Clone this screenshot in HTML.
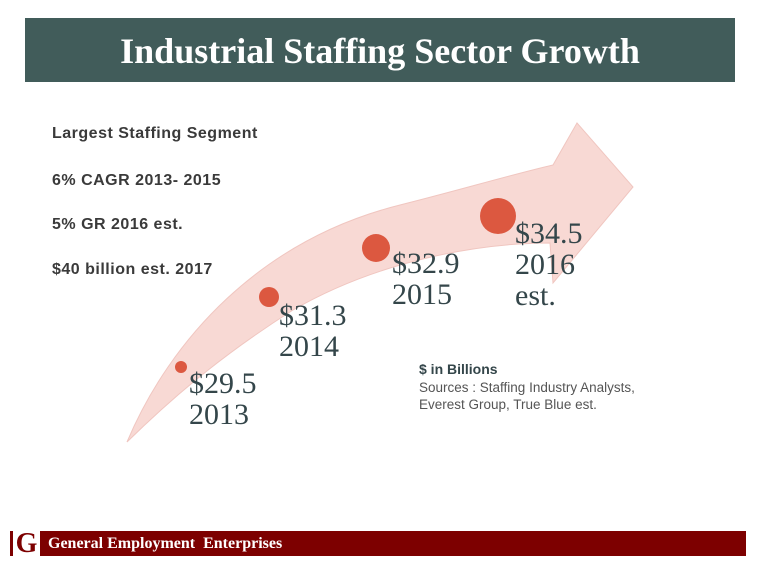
<!DOCTYPE html>
<html><head><meta charset="utf-8"><style>
html,body{margin:0;padding:0;background:#fff;}
body{width:760px;height:570px;position:relative;overflow:hidden;font-family:"Liberation Sans",sans-serif;}
.title{position:absolute;left:25px;top:18px;width:710px;height:64px;background:#415c5a;color:#fff;font-family:"Liberation Serif",serif;font-weight:bold;font-size:36px;text-align:center;line-height:66px;}
.foot{position:absolute;left:10px;top:531px;width:736px;height:25px;background:#7d0000;}
.logo{position:absolute;left:13px;top:531px;width:27px;height:25px;background:#fff;color:#7d0000;font-family:"Liberation Serif",serif;font-weight:bold;font-size:28px;line-height:25px;text-align:center;}
.ft{position:absolute;left:48px;top:531px;line-height:25px;color:#fff;font-family:"Liberation Serif",serif;font-weight:bold;font-size:16px;}
.b{position:absolute;left:52px;font-weight:bold;font-size:16px;letter-spacing:0.5px;color:#3a3a3a;}
.v{position:absolute;font-family:"Liberation Serif",serif;font-size:30px;line-height:31px;color:#34464a;}
</style></head><body>
<div class="title">Industrial Staffing Sector Growth</div>
<svg width="760" height="570" style="position:absolute;left:0;top:0">
<path d="M127,442 C170,340 260,240 400,205 C460,190 510,175 553,165 L577,123 L633,187 L553,283 L550,243 C480,243 380,260 293,310 C230,350 180,390 127,442 Z" fill="#f8d9d4" stroke="#f0c6c0" stroke-width="1"/>
<circle cx="181" cy="367" r="6" fill="#dc5840"/>
<circle cx="269" cy="297" r="10" fill="#dc5840"/>
<circle cx="376" cy="248" r="14" fill="#dc5840"/>
<circle cx="498" cy="216" r="18" fill="#dc5840"/>
</svg>
<div class="b" style="top:125px">Largest Staffing Segment</div>
<div class="b" style="top:172px">6% CAGR 2013- 2015</div>
<div class="b" style="top:216px">5% GR 2016 est.</div>
<div class="b" style="top:261px">$40 billion est. 2017</div>
<div class="v" style="left:189px;top:368px">$29.5<br>2013</div>
<div class="v" style="left:279px;top:300px">$31.3<br>2014</div>
<div class="v" style="left:392px;top:248px">$32.9<br>2015</div>
<div class="v" style="left:515px;top:218px">$34.5<br>2016<br>est.</div>
<div style="position:absolute;left:419px;top:361px;font-size:14px;font-weight:bold;color:#34464a">$ in Billions</div>
<div style="position:absolute;left:419px;top:379px;font-size:13.5px;line-height:17px;color:#555">Sources : Staffing Industry Analysts,<br>Everest Group, True Blue est.</div>
<div class="foot"></div>
<div class="logo">G</div>
<div class="ft">General Employment&nbsp; Enterprises</div>
</body></html>
